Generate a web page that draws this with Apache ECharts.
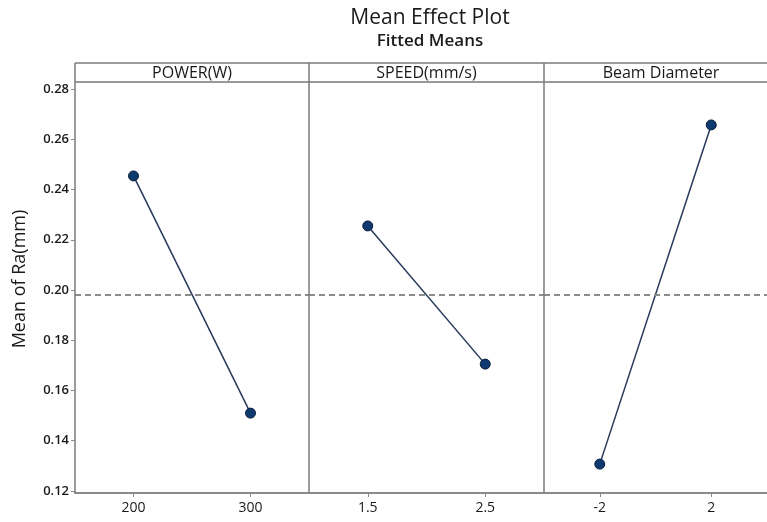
<!DOCTYPE html>
<html>
<head>
<meta charset="utf-8">
<script src="https://cdn.jsdelivr.net/npm/echarts@6/dist/echarts.min.js"></script>
<style>
  html, body { margin: 0; padding: 0; background: #fff; }
  #chart { width: 767px; height: 522px; }
</style>
</head>
<body>
<div id="chart"></div>
<script>
// Factor panels: level labels and fitted means of Ra (mm)
const factorNames = ['POWER(W)', 'SPEED(mm/s)', 'Beam Diameter'];
const powerLevels = ['200', '300'];
const speedLevels = ['1.5', '2.5'];
const beamLevels = ['-2', '2'];
const powerMeans = [0.2454, 0.1510];
const speedMeans = [0.2255, 0.1705];
const beamMeans = [0.1307, 0.2657];
const grandMean = 0.198;

const yMin = 0.12, yMax = 0.28, yStep = 0.02;

const levels = [powerLevels, speedLevels, beamLevels];
const means = [powerMeans, speedMeans, beamMeans];

// Panel geometry
const panelLeft = [75, 309, 544];
const panelWidth = [234, 235, 234];
const headerTop = 63, headerBottom = 82, plotTop = 89, plotBottom = 491, frameBottom = 493;

const FONT = '"Open Sans", "Noto Sans", sans-serif';
const frameColor = '#7a7a7a';

const grids = [], xAxes = [], yAxes = [], series = [];
for (let i = 0; i < 3; i++) {
  grids.push({ left: panelLeft[i], width: panelWidth[i], top: plotTop, height: plotBottom - plotTop });
  xAxes.push({
    type: 'category', gridIndex: i, data: levels[i], boundaryGap: true, offset: frameBottom - plotBottom,
    axisLine: { show: true, lineStyle: { color: '#8a8a8a', width: 2 } },
    axisTick: { show: true, alignWithLabel: true, length: 4, lineStyle: { color: '#8a8a8a', width: 1 } },
    axisLabel: { color: '#1a1a1a', fontFamily: FONT, fontSize: 14, margin: 8 },
    splitLine: { show: false }
  });
  yAxes.push({
    type: 'value', gridIndex: i, min: yMin, max: yMax, interval: yStep,
    axisLine: { show: false },
    axisTick: { show: i === 0, length: 4, lineStyle: { color: '#8a8a8a' } },
    axisLabel: { show: i === 0, color: '#1a1a1a', fontFamily: FONT, fontSize: 13, fontWeight: 600, margin: 6,
      formatter: v => v.toFixed(2) },
    splitLine: { show: false }
  });
  series.push({
    type: 'line', xAxisIndex: i, yAxisIndex: i, data: means[i],
    symbol: 'circle', symbolSize: 10,
    lineStyle: { color: '#27385a', width: 1.5 },
    itemStyle: { color: '#0f3a70', borderColor: '#0a1d3a', borderWidth: 1 },
    markLine: {
      silent: true, symbol: 'none', label: { show: false }, precision: 4,
      lineStyle: { color: '#8c8c8c', type: [6, 4], width: 2 },
      data: [{ yAxis: grandMean }]
    },
    z: 3
  });
}

// Frame, header strip and panel dividers
const graphics = [];
const line = (x1, y1, x2, y2, color, w) => ({
  type: 'line', shape: { x1, y1, x2, y2 }, style: { stroke: color, lineWidth: w }, silent: true, z: 10
});
graphics.push(line(75, headerTop, 767, headerTop, frameColor, 1.5));
graphics.push(line(75, headerBottom, 767, headerBottom, '#333', 1));
graphics.push(line(75, headerTop, 75, frameBottom, frameColor, 1.5));
graphics.push(line(309, headerTop, 309, frameBottom, frameColor, 1.5));
graphics.push(line(544, headerTop, 544, frameBottom, frameColor, 1.5));
for (let i = 0; i < 3; i++) {
  graphics.push({
    type: 'text', x: panelLeft[i] + panelWidth[i] / 2, y: (headerTop + headerBottom) / 2 + 1, z: 11,
    style: { text: factorNames[i], fill: '#1a1a1a', font: '16px ' + FONT, align: 'center', verticalAlign: 'middle' }
  });
}
graphics.push({
  type: 'text', x: 20, y: 279, rotation: Math.PI / 2, z: 11,
  style: { text: 'Mean of Ra(mm)', fill: '#1a1a1a', font: '18px ' + FONT, align: 'center', verticalAlign: 'middle' }
});

const chart = echarts.init(document.getElementById('chart'), null, { renderer: 'canvas' });
chart.setOption({
  animation: false,
  backgroundColor: '#fff',
  title: {
    text: 'Mean Effect Plot', subtext: 'Fitted Means', left: 425, top: 3, textAlign: 'center', itemGap: 4,
    textStyle: { fontFamily: FONT, fontSize: 21, fontWeight: 'normal', color: '#1a1a1a' },
    subtextStyle: { fontFamily: FONT, fontSize: 17, fontWeight: 600, color: '#1a1a1a' }
  },
  grid: grids, xAxis: xAxes, yAxis: yAxes, series: series,
  graphic: graphics
});
</script>
</body>
</html>
